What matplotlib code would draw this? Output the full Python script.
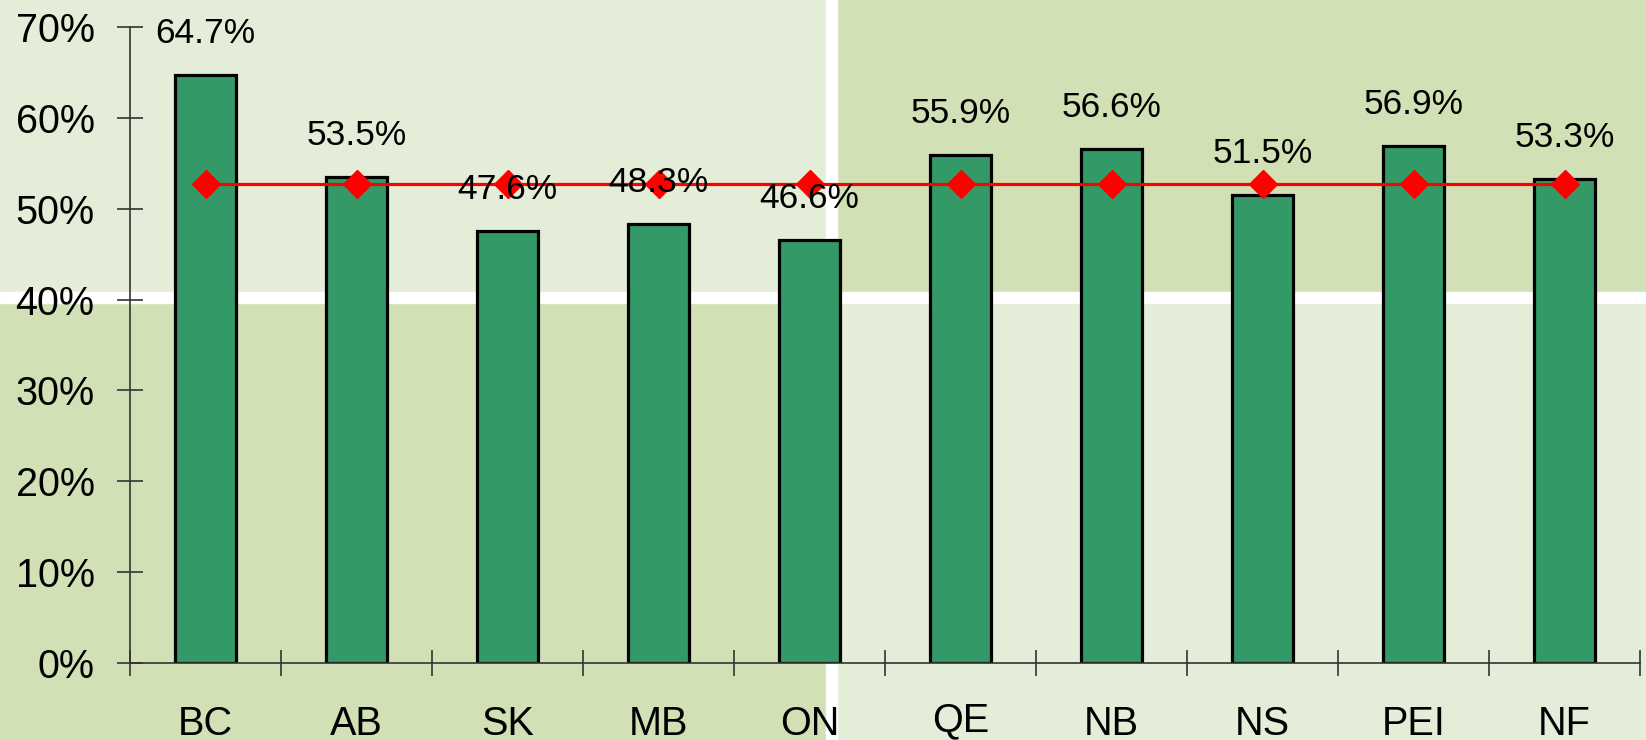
import matplotlib
matplotlib.use('Agg')
import matplotlib.pyplot as plt
from matplotlib.patches import Rectangle
from matplotlib import font_manager, ft2font
import numpy as np

# Datos
provincias = ['BC', 'AB', 'SK', 'MB', 'ON', 'QE', 'NB', 'NS', 'PEI', 'NF']
valores = [64.7, 53.5, 47.6, 48.3, 46.6, 55.9, 56.6, 51.5, 56.9, 53.3]
promedio = [52.7, 52.7, 52.7, 52.7, 52.7, 52.7, 52.7, 52.7, 52.7, 52.7]
ticks_y = [0, 10, 20, 30, 40, 50, 60, 70]

plt.rcParams['font.family'] = ['Liberation Sans', 'DejaVu Sans']

W, H = 1646, 740
fig = plt.figure(figsize=(W / 100, H / 100), dpi=100)


def descenso(texto, size):
    # la cola de la "Q" baja el texto al dibujarlo; se compensa
    try:
        ruta = font_manager.findfont(font_manager.FontProperties(family='Liberation Sans'))
        f = ft2font.FT2Font(ruta, hinting_factor=8)
        f.set_size(size, 100)
        f.set_text(texto, 0)
        return f.get_descent() / 64.0
    except Exception:
        return 0


# Fondo en cuatro cuadrantes
claro = '#e4edd7'
oscuro = '#d1e1b5'
xs = 832 / W
ys = 1 - 297.5 / H
fig.patches.append(Rectangle((0, ys), xs, 1 - ys, transform=fig.transFigure, color=claro, zorder=-10))
fig.patches.append(Rectangle((xs, ys), 1 - xs, 1 - ys, transform=fig.transFigure, color=oscuro, zorder=-10))
fig.patches.append(Rectangle((0, 0), xs, ys, transform=fig.transFigure, color=oscuro, zorder=-10))
fig.patches.append(Rectangle((xs, 0), 1 - xs, ys, transform=fig.transFigure, color=claro, zorder=-10))
fig.patches.append(Rectangle((826 / W, 0), 11 / W, 1, transform=fig.transFigure, color='white', zorder=-9))
fig.patches.append(Rectangle((0, 1 - 303 / H), 1, 11 / H, transform=fig.transFigure, color='white', zorder=-9))

ax = fig.add_axes([130 / W, 1 - 663 / H, 1510 / W, 636 / H])
ax.set_facecolor('none')

x = np.arange(len(provincias))
ax.bar(x, valores, width=0.4, color='#339966', edgecolor='black', linewidth=2.3, zorder=2)
ax.plot(x, promedio, color='#ff0000', linewidth=2.3, marker='D', markersize=14, zorder=3)

# Etiquetas de datos
for xi, v in zip(x, valores):
    ax.annotate(f'{v:.1f}%', (xi, v), xytext=(0, 32), textcoords='offset pixels',
                ha='center', va='baseline', fontsize=25.5, zorder=4)

# Etiquetas de categorias (alineadas por la linea base)
for xi, p in zip(x, provincias):
    ax.annotate(p, (xi, 0), xycoords=('data', 'axes fraction'),
                xytext=(0, -72 + 0.5 * descenso(p, 28.5)),
                textcoords='offset pixels', ha='center', va='baseline',
                fontsize=28.5, annotation_clip=False)

ax.set_xlim(-0.5, len(provincias) - 0.5)
ax.set_ylim(0, 70)
ax.set_yticks(ticks_y)
ax.set_yticklabels([f'{t}%' for t in ticks_y], fontsize=28.5)
ax.set_xticks(np.arange(-0.5, len(provincias), 1.0))
ax.set_xticklabels([])
ax.tick_params(axis='both', which='major', direction='inout', length=19, width=1.2, color='#333333')
ax.tick_params(axis='y', pad=16)

for s in ['top', 'right']:
    ax.spines[s].set_visible(False)
for s in ['left', 'bottom']:
    ax.spines[s].set_color('#333333')
    ax.spines[s].set_linewidth(1.2)
ax.spines['left'].set_bounds(0, 70)

plt.savefig('out.png', dpi=100)
